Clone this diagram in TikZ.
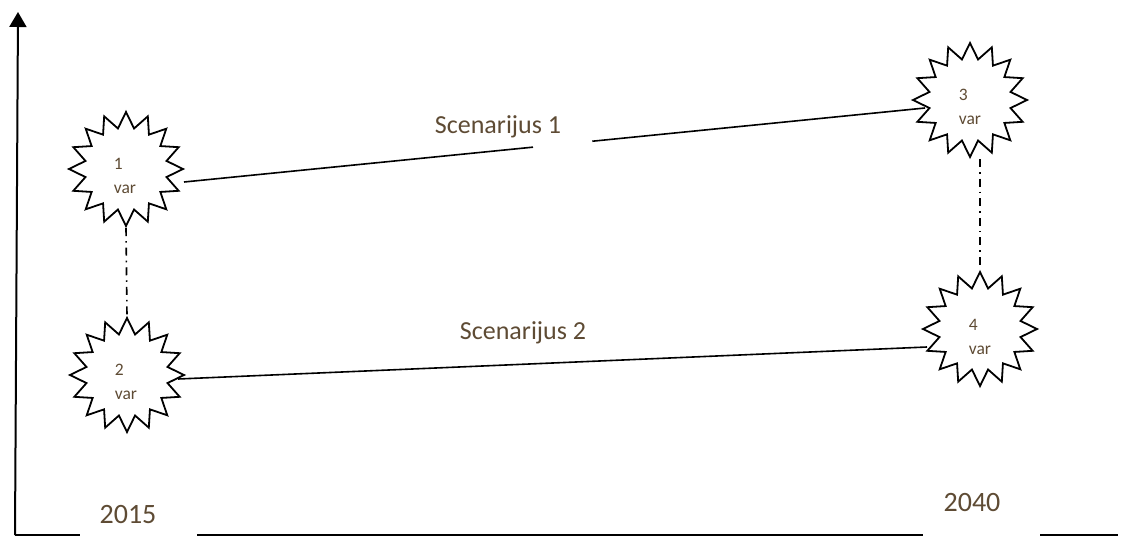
\documentclass[tikz,border=0pt]{standalone}
\usepackage{fontspec}
\setmainfont{Carlito}
\usetikzlibrary{shapes.geometric,arrows.meta,calc}
\definecolor{txt}{RGB}{94,75,52}
\begin{document}
\begin{tikzpicture}[x=1pt,y=-1pt,
  burst/.style={star,star points=16,star point ratio=1.38,minimum size=114pt,inner sep=0pt,draw=black,line width=1.8pt},
  vartext/.style={text=txt,font=\fontsize{17.5}{24}\selectfont,align=left,inner sep=0pt},
  conn/.style={line width=1.6pt,draw=black},
  dd/.style={line width=1.6pt,dash pattern=on 8pt off 5pt on 1.6pt off 5pt},
  lbl/.style={text=txt,font=\fontsize{26}{30}\selectfont,inner sep=0pt},
  yr/.style={text=txt,font=\fontsize{28}{32}\selectfont,inner sep=0pt},
  axisline/.style={line width=2pt,draw=black}]
\useasboundingbox (0,0) rectangle (1121,538);

% stars
\node[burst] (s1) at (126,169) {};
\node[burst] (s2) at (127,375) {};
\node[burst] (s3) at (970,100) {};
\node[burst] (s4) at (980,329) {};

\node[vartext] (t1) at (125,176) {1\\var};
\node[vartext] (t2) at (126,382) {2\\var};
\node[vartext] (t3) at (970,107) {3\\var};
\node[vartext] (t4) at (980,337) {4\\var};

% scenario lines
\path ($(s1)+(58,13)$) -- ($(s3)+(-45,8)$)
  coordinate[pos=0.471] (g1) coordinate[pos=0.551] (g2);
\draw[conn] ($(s1)+(58,13)$) -- (g1);
\draw[conn] (g2) -- ($(s3)+(-45,8)$);
\draw[conn] ($(s2)+(51,4)$) -- ($(s4)+(-53,18)$);

\node[lbl] (l1) at (498,127) {Scenarijus 1};
\node[lbl] (l2) at (523,333) {Scenarijus 2};

% dash-dot links
\draw[dd] (s1.270) -- (s2.90);
\draw[dd] (s3.270 -| s4.90) -- (s4.90);

% axes
\coordinate (o) at (15,535);
\coordinate (ytop) at (18,12);
\draw[axisline,-{Triangle[length=15pt,width=17pt]}] (o) -- (ytop);
\coordinate (a1) at (80,535);
\coordinate (a2) at (197,535);
\coordinate (a3) at (923,535);
\coordinate (a4) at (1040,535);
\coordinate (a5) at (1118,535);
\draw[axisline] (o) -- (a1);
\draw[axisline] (a2) -- (a3);
\draw[axisline] (a4) -- (a5);

\node[yr] (y1) at (128,515) {2015};
\node[yr] (y2) at (972,503) {2040};
\end{tikzpicture}
\end{document}
